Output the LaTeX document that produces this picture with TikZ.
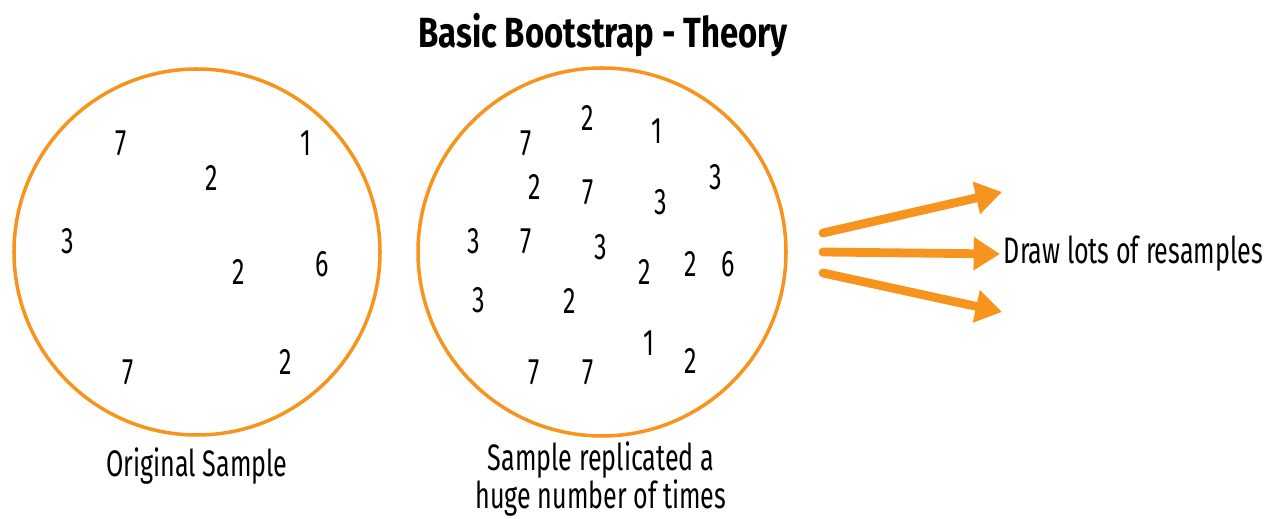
\documentclass[tikz,border=0pt]{standalone}
\usepackage{fontspec}
\setmainfont[FakeStretch=0.68, BoldFeatures={FakeStretch=0.78}]{Fira Sans}
\usepackage{xcolor}
\usepackage{tikz}
\usetikzlibrary{positioning,arrows.meta}

\definecolor{bootorange}{HTML}{F7941D}

\begin{document}
\begin{tikzpicture}[x=0.02cm, y=-0.02cm, font=\fontsize{21}{24}\selectfont,
    pool/.style={draw=bootorange, line width=2pt},
    resample/.style={draw=bootorange, line width=5pt, line cap=round,
      -{Triangle[length=15pt, width=18pt]}},
    caption/.style={font=\fontsize{21}{19}\selectfont, align=center, inner sep=0pt}]
      \useasboundingbox (0,0) rectangle (1271,519);
      % title
      \node[font=\bfseries\fontsize{24}{28}\selectfont] (title) at (603,35) {Basic Bootstrap - Theory};
      % the two circles
      \node[pool, circle, minimum size=366*0.02cm] (orig) at (197,252) {};
      \node[pool, circle, minimum size=368*0.02cm] (repl) at (602,252) {};
      % original sample
      \foreach \v/\px/\py [count=\k] in {7/121/143, 1/306/143, 2/212/178, 3/68/241,
          2/239/272, 6/322/264, 7/128/372, 2/286/362}
        \node (o\k) at (\px,\py) {\v};
      % replicated sample
      \foreach \v/\px/\py [count=\k] in {2/588/118, 7/526/143, 1/657/131, 3/716/177,
          2/535/187, 7/588/192, 3/661/202, 3/474/241, 7/526/241, 3/601/247,
          2/645/272, 2/691/264, 6/728/264, 3/479/300, 2/570/301, 1/649/343,
          2/691/361, 7/534/372, 7/588/372}
        \node (r\k) at (\px,\py) {\v};
      % captions
      \node[caption] (origlbl) at (197,466) {Original Sample};
      \node[caption] (repllbl) at (601,479) {Sample replicated a\\huge number of times};
      % resample arrows
      \coordinate (s1) at (823,233);
      \coordinate (s2) at (823,252);
      \coordinate (s3) at (823,273);
      \coordinate (t1) at (1002,192);
      \coordinate (t3) at (1002,312);
      \node[caption, anchor=west, inner sep=2pt] (draw) at (1000,254) {Draw lots of resamples};
      \draw[resample] (s1) -- (t1);
      \draw[resample] (s2) -- (draw.west);
      \draw[resample] (s3) -- (t3);
    \end{tikzpicture}
\end{document}
